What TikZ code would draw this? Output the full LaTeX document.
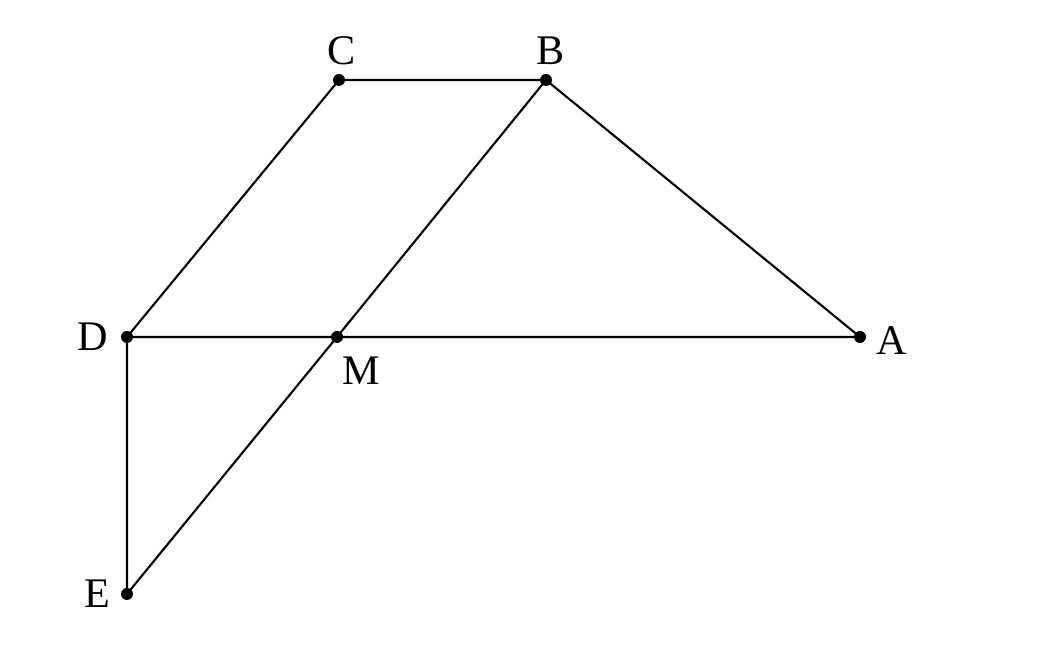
\documentclass[tikz,border=0pt]{standalone}
\usepackage{fontspec}
\setmainfont{Liberation Serif}
\begin{document}
\begin{tikzpicture}[line width=0.6pt]
            \useasboundingbox (0,0) rectangle (10.5,6.7);
            % points
            \coordinate (C) at (3.39,5.90);
            \coordinate (B) at (5.46,5.90);
            \coordinate (D) at (1.27,3.33);
            \coordinate (M) at (3.37,3.33);
            \coordinate (A) at (8.60,3.33);
            \coordinate (E) at (1.27,0.76);
            % segments
            \draw (C) -- (B) -- (A) -- (D) -- (C);
            \draw (B) -- (M) -- (E) -- (D);
            \foreach \p in {A,B,C,D,E,M} {
                \fill (\p) circle (0.06);
            }
            % labels
            \node[font=\fontsize{12}{14}\selectfont] (lC) at (3.42,6.19) {C};
            \node[font=\fontsize{12}{14}\selectfont] (lB) at (5.51,6.19) {B};
            \node[font=\fontsize{12}{14}\selectfont] (lD) at (0.93,3.33) {D};
            \node[font=\fontsize{12}{14}\selectfont] (lM) at (3.61,2.99) {M};
            \node[font=\fontsize{12}{14}\selectfont] (lA) at (8.92,3.29) {A};
            \node[font=\fontsize{12}{14}\selectfont] (lE) at (0.97,0.76) {E};
        \end{tikzpicture}
\end{document}
